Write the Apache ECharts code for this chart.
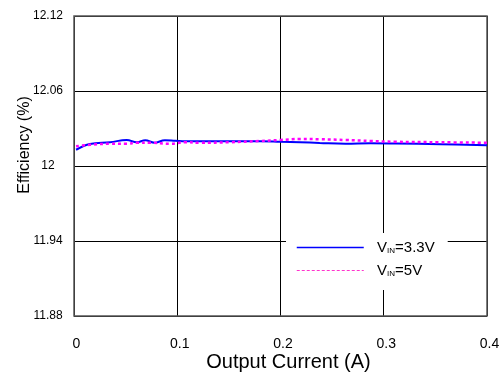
<!DOCTYPE html>
<html>
<head>
<meta charset="utf-8">
<script src="https://cdn.jsdelivr.net/npm/echarts@6/dist/echarts.min.js"></script>
<style>
  html, body { margin: 0; padding: 0; background: #fff; }
  #chart { width: 504px; height: 373px; }
</style>
</head>
<body>
<div id="chart"></div>
<script>
// Efficiency vs output current, two input voltages
const current33 = [0.002, 0.0155, 0.035, 0.051, 0.061, 0.069, 0.078, 0.088, 0.098, 0.108, 0.127, 0.18, 0.2, 0.219, 0.238, 0.263, 0.287, 0.311, 0.355, 0.4];
const eff33     = [12.013, 12.0176, 12.019, 12.0208, 12.019, 12.0206, 12.0186, 12.0206, 12.0202, 12.0198, 12.0198, 12.0198, 12.0194, 12.019, 12.0184, 12.0178, 12.0182, 12.018, 12.0174, 12.0166];

const current5 = [0.002, 0.0155, 0.035, 0.051, 0.061, 0.074, 0.093, 0.108, 0.122, 0.151, 0.18, 0.2, 0.219, 0.238, 0.263, 0.287, 0.311, 0.355, 0.4];
const eff5     = [12.0158, 12.017, 12.0178, 12.0178, 12.0186, 12.0186, 12.0178, 12.019, 12.0186, 12.019, 12.02, 12.0208, 12.0216, 12.0214, 12.0208, 12.02, 12.0194, 12.019, 12.0186];

const xTickLabels = ['0', '0.1', '0.2', '0.3', '0.4'];
const yTickLabels = ['11.88', '11.94', '12', '12.06', '12.12'];

const seriesNames = ['VIN=3.3V', 'VIN=5V'];

const pair = (xs, ys) => xs.map((x, i) => [x, ys[i]]);
const FONT = 'Liberation Sans, Arial, sans-serif';

const chart = echarts.init(document.getElementById('chart'), null, { renderer: 'canvas' });

chart.setOption({
  animation: false,
  backgroundColor: '#fff',
  grid: {
    left: 74, right: 17, top: 16, bottom: 57,
    outerBoundsMode: 'none', containLabel: false,
    show: true, borderColor: '#555', borderWidth: 1.5, backgroundColor: 'transparent', z: 3
  },
  xAxis: {
    type: 'value', min: 0, max: 0.4, interval: 0.1,
    name: 'Output Current (A)', nameLocation: 'middle', nameGap: 36, nameMoveOverlap: false,
    nameTextStyle: { fontFamily: FONT, fontSize: 20, color: '#000', padding: [0, 0, 0, 16] },
    axisLine: { show: false }, axisTick: { show: false },
    axisLabel: {
      fontFamily: FONT, fontSize: 14, color: '#000', margin: 21, padding: [0, 0, 0, 5],
      formatter: (v) => xTickLabels[Math.round(v * 10)]
    },
    splitLine: { show: true, lineStyle: { color: '#000', width: 1 } }
  },
  yAxis: {
    type: 'value', min: 11.88, max: 12.12, interval: 0.06,
    name: 'Efficiency (%)', nameLocation: 'middle', nameGap: 41, nameMoveOverlap: false,
    nameTextStyle: { fontFamily: FONT, fontSize: 16, color: '#000', padding: [0, 0, 0, 42] },
    axisLine: { show: false }, axisTick: { show: false },
    axisLabel: {
      fontFamily: FONT, fontSize: 12, color: '#000', margin: 26, align: 'center', padding: [6, 0, 0, 0],
      formatter: (v) => yTickLabels[Math.round((v - 11.88) / 0.06)]
    },
    splitLine: { show: true, lineStyle: { color: '#000', width: 1 } }
  },
  legend: {
    left: 286, top: 233, orient: 'vertical',
    backgroundColor: '#fff', padding: [7, 13, 12, 10],
    itemWidth: 67, itemHeight: 14, itemGap: 8, z: 10,
    textStyle: {
      fontFamily: FONT, fontSize: 15, color: '#000',
      rich: {
        n: { fontFamily: FONT, fontSize: 15, color: '#000' },
        s: { fontFamily: FONT, fontSize: 8, color: '#000', verticalAlign: 'bottom', padding: [7, 0, 0, 0] }
      }
    },
    formatter: (name) => '  {n|V}{s|IN}{n|' + name.slice(3) + '}',
    data: [
      { name: seriesNames[0], itemStyle: { opacity: 0, borderWidth: 0 }, lineStyle: { color: '#0000ff', width: 1.5, type: 'solid' } },
      { name: seriesNames[1], itemStyle: { opacity: 0, borderWidth: 0 }, lineStyle: { color: '#ff33cc', width: 1, type: [3, 2] } }
    ]
  },
  series: [
    {
      name: seriesNames[0], type: 'line', showSymbol: false, symbol: 'none', smooth: 0.4,
      data: pair(current33, eff33),
      lineStyle: { color: '#0000ff', width: 2 }, itemStyle: { color: '#0000ff' }, z: 4
    },
    {
      name: seriesNames[1], type: 'line', showSymbol: false, symbol: 'none', smooth: 0.4,
      data: pair(current5, eff5),
      lineStyle: { color: '#ff00ff', width: 2.5, type: [3, 3] }, itemStyle: { color: '#ff00ff' }, z: 5
    }
  ]
});
</script>
</body>
</html>
